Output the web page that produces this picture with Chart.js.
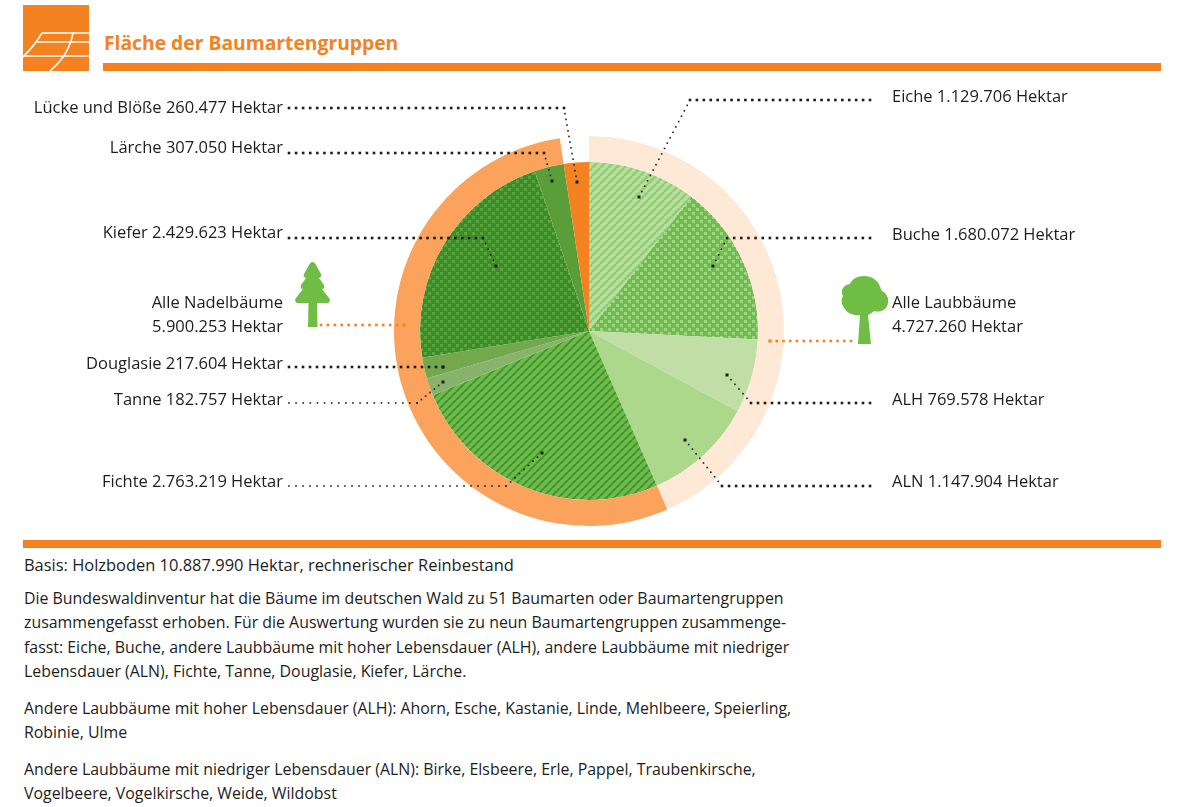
<!DOCTYPE html>
<html lang="de">
<head>
<meta charset="UTF-8">
<title>Fläche der Baumartengruppen</title>
<script src="https://cdn.jsdelivr.net/npm/chart.js"></script>
<style>
    html, body { margin: 0; padding: 0; background: #fff; overflow: hidden; }
    body { width: 1187px; height: 807px; position: relative; font-family: "Open Sans", sans-serif; color: #1d1d1b; font-size: 15.9px; }
    #wrap { position: absolute; left: 0; top: 0; width: 1187px; height: 540px; }
    .bar { position: absolute; background: #f58220; }
    .lbl { position: absolute; white-space: nowrap; line-height: 24px; font-size: 16.5px; }
    .lbl.left { right: 904px; text-align: right; }
    .lbl.right { left: 892px; }
    h1 { position: absolute; left: 104px; top: 30px; margin: 0; font-size: 19.3px; line-height: 26px; font-weight: 700; color: #f58220; }
    .txt { position: absolute; left: 24px; margin: 0; line-height: 24.4px; white-space: nowrap; }
    svg { position: absolute; }
</style>
</head>
<body>
<svg style="left:23px;top:5px" width="66" height="66" viewBox="0 0 66 66">
    <rect width="66" height="66" fill="#f58220"/>
    <path d="M0 51 L66 51 M12 37 L66 37 M19 28 L66 28 M19 28 Q12 40 0 52 M50 28 Q46 50 27 66" stroke="#fff" stroke-width="1.5" fill="none"/>
</svg>
<h1>Fläche der Baumartengruppen</h1>
<div class="bar" style="left:103px;top:63px;width:1058px;height:8px"></div>

<div id="wrap"><canvas id="pie"></canvas></div>

<svg style="left:294px;top:261px" width="38" height="67" viewBox="0 0 38 67">
    <path d="M18.5 1 C20 1 21 2 22 4 L27 13 C28 15 27 16 25 17 L30 24 C31 26 30 28 28 28 L35 37 C37 40 35 42 33 42 L23 42 L23.5 66 L14 66 L14.5 42 L4 42 C2 42 0 40 2 37 L9 28 C7 28 6 26 7 24 L12 17 C10 16 9 15 10 13 L15 4 C16 2 17 1 18.5 1 Z" fill="#6fbd45"/>
</svg>
<svg style="left:840px;top:275px" width="50" height="70" viewBox="0 0 50 70">
    <path d="M24 1 C33 1 40 7 41 15 C46 18 49 22 48 28 C47 35 40 38 34 36 C32 38 30 39 28 40 L31 69 L18 69 L20 40 C15 41 8 39 5 34 C1 29 1 24 3 21 C0 16 3 10 10 9 C12 4 17 1 24 1 Z" fill="#6fbd45"/>
</svg>

<div class="bar" style="left:23px;top:540px;width:1138px;height:8px"></div>
<p class="txt" style="top:553px;font-size:16.45px">Basis: Holzboden 10.887.990 Hektar, rechnerischer Reinbestand</p>
<p class="txt" style="top:586px">Die Bundeswaldinventur hat die Bäume im deutschen Wald zu 51 Baumarten oder Baumartengruppen<br>zusammengefasst erhoben. Für die Auswertung wurden sie zu neun Baumartengruppen zusammenge-<br>fasst: Eiche, Buche, andere Laubbäume mit hoher Lebensdauer (ALH), andere Laubbäume mit niedriger<br>Lebensdauer (ALN), Fichte, Tanne, Douglasie, Kiefer, Lärche.</p>
<p class="txt" style="top:696px">Andere Laubbäume mit hoher Lebensdauer (ALH): Ahorn, Esche, Kastanie, Linde, Mehlbeere, Speierling,<br>Robinie, Ulme</p>
<p class="txt" style="top:757px">Andere Laubbäume mit niedriger Lebensdauer (ALN): Birke, Elsbeere, Erle, Pappel, Traubenkirsche,<br>Vogelbeere, Vogelkirsche, Weide, Wildobst</p>

<script>
    // Werte aus der Grafik, im Uhrzeigersinn ab 12 Uhr
    const species = ['Eiche', 'Buche', 'ALH', 'ALN', 'Fichte', 'Tanne', 'Douglasie', 'Kiefer', 'Lärche', 'Lücke und Blöße'];
    const hectares = [1129706, 1680072, 769578, 1147904, 2763219, 182757, 217604, 2429623, 307050, 260477];

    const groups = ['Alle Laubbäume', 'Alle Nadelbäume', 'Lücke'];
    const groupHectares = [4727260, 5900253, 260477];

    const fmt = n => n.toLocaleString('de-DE');

    // Beschriftungen: Seite und Mitte der Zeile
    const labelPos = {
        'Eiche': ['right', 96], 'Buche': ['right', 234], 'ALH': ['right', 399], 'ALN': ['right', 481],
        'Fichte': ['left', 481], 'Tanne': ['left', 399], 'Douglasie': ['left', 363], 'Kiefer': ['left', 232],
        'Lärche': ['left', 147], 'Lücke und Blöße': ['left', 107]
    };
    function addLabel(side, top, html) {
        const el = document.createElement('div');
        el.className = 'lbl ' + side;
        el.style.top = top + 'px';
        el.innerHTML = html;
        document.body.appendChild(el);
    }
    species.forEach((name, i) => {
        const [side, y] = labelPos[name];
        addLabel(side, y - 12, name + ' ' + fmt(hectares[i]) + ' Hektar');
    });
    addLabel('right', 290, groups[0] + '<br>' + fmt(groupHectares[0]) + ' Hektar');
    addLabel('left', 290, groups[1] + '<br>' + fmt(groupHectares[1]) + ' Hektar');

    // Schraffuren
    function stripes(bg, fg, w) {
        const s = 8, c = document.createElement('canvas');
        c.width = c.height = s;
        const x = c.getContext('2d');
        x.fillStyle = bg; x.fillRect(0, 0, s, s);
        x.strokeStyle = fg; x.lineWidth = w;
        [-s, 0, s].forEach(o => {
            x.beginPath(); x.moveTo(o, s); x.lineTo(o + s, 0); x.stroke();
        });
        return x.createPattern(c, 'repeat');
    }
    function dots(bg, fg) {
        const s = 8, c = document.createElement('canvas');
        c.width = c.height = s;
        const x = c.getContext('2d');
        x.fillStyle = bg; x.fillRect(0, 0, s, s);
        x.fillStyle = fg;
        x.fillRect(0, 0, 3, 3);
        x.fillRect(4, 4, 3, 3);
        return x.createPattern(c, 'repeat');
    }

    const sliceColors = [
        stripes('#b9dea1', '#92cc74', 2.6),
        dots('#6fbe4a', '#a0d489'),
        '#c0dea6',
        '#add78b',
        stripes('#6cbd48', '#4a9334', 2),
        '#87b36a',
        '#74a84f',
        dots('#3f8a2c', '#58a83c'),
        '#5a9e39',
        '#f58220'
    ];
    const ringColors = ['#fee9d7', '#fba35c', 'rgba(0,0,0,0)'];

    // Führungslinien [Pixel], Stil: h = kräftig, f = fein, o = orange
    const leaders = [
        { pts: [[289, 108], [564, 108], [577, 182]], style: 'h' },
        { pts: [[289, 153], [544, 153], [552, 181]], style: 'h' },
        { pts: [[289, 238], [483, 238], [496, 266]], style: 'h' },
        { pts: [[289, 367], [443, 367]], style: 'h' },
        { pts: [[289, 403], [417, 403], [443, 382]], style: 'f' },
        { pts: [[289, 486], [506, 486], [542, 453]], style: 'f' },
        { pts: [[870, 100], [690, 100], [639, 197]], style: 'h' },
        { pts: [[870, 238], [727, 238], [713, 266]], style: 'h' },
        { pts: [[870, 403], [751, 403], [727, 375]], style: 'h' },
        { pts: [[870, 486], [722, 486], [685, 440]], style: 'h' },
        { pts: [[321, 325], [404, 325]], style: 'o' },
        { pts: [[851, 341], [770, 341]], style: 'o' }
    ];

    function dotted(ctx, a, b, step, size, color) {
        const len = Math.hypot(b[0] - a[0], b[1] - a[1]);
        const n = Math.round(len / step);
        ctx.fillStyle = color;
        for (let i = 0; i <= n; i++) {
            const x = a[0] + (b[0] - a[0]) * i / n, y = a[1] + (b[1] - a[1]) * i / n;
            ctx.fillRect(x - size / 2, y - size / 2, size, size);
        }
    }

    const leaderPlugin = {
        id: 'leaders',
        afterDraw(chart) {
            const ctx = chart.ctx;
            ctx.save();
            leaders.forEach(l => {
                const color = l.style === 'o' ? '#f58220' : '#1d1d1b';
                const size = l.style === 'f' ? 1.6 : 2.6;
                l.pts.slice(1).forEach((p, i) => {
                    const a = l.pts[i];
                    const horizontal = a[1] === p[1];
                    dotted(ctx, a, p, horizontal ? 7 : 6, horizontal ? size : 1.6, color);
                });
                const end = l.pts[l.pts.length - 1];
                ctx.fillStyle = color;
                ctx.fillRect(end[0] - 1.5, end[1] - 1.5, 3, 3);
            });
            ctx.restore();
        }
    };

    new Chart(document.getElementById('pie'), {
        type: 'doughnut',
        data: {
            labels: species,
            datasets: [
                { label: 'Gruppen', data: groupHectares, backgroundColor: ringColors, borderWidth: 0, weight: 26 },
                { label: 'Baumarten', data: hectares, backgroundColor: sliceColors, borderWidth: 0, weight: 169 }
            ]
        },
        options: {
            responsive: true,
            maintainAspectRatio: false,
            animation: false,
            cutout: 0,
            layout: { padding: { top: 136, bottom: 14, right: 9 } },
            plugins: { legend: { display: false }, tooltip: { enabled: false } }
        },
        plugins: [leaderPlugin]
    });
</script>
</body>
</html>
